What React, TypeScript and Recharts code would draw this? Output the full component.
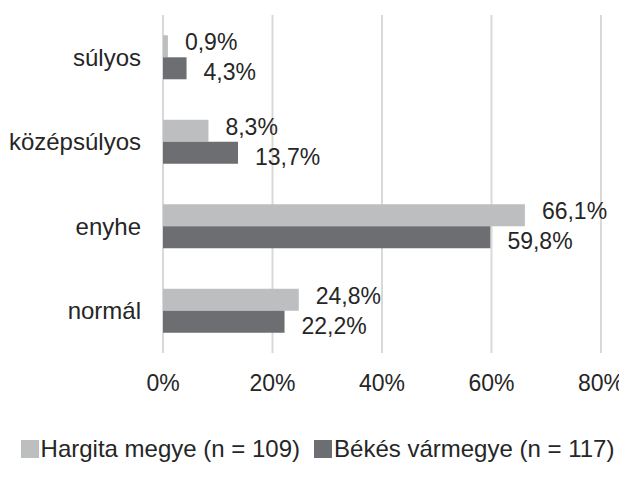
import React from "react";
import {
  BarChart,
  Bar,
  XAxis,
  YAxis,
  CartesianGrid,
  Legend,
  LabelList,
} from "recharts";

const categories = ["súlyos", "középsúlyos", "enyhe", "normál"];
const hargita = [0.9, 8.3, 66.1, 24.8];
const bekes = [4.3, 13.7, 59.8, 22.2];
const xTicks = [0, 20, 40, 60, 80];
const seriesNames = ["Hargita megye (n = 109)", "Békés vármegye (n = 117)"];
const colors = ["#BDBEC0", "#6D6E71"];

const font = "'Liberation Sans', Arial, sans-serif";
const textColor = "#262626";

const data = categories.map((c, i) => ({
  kat: c,
  hargita: hargita[i],
  bekes: bekes[i],
}));

const fmt = (v: number) => v.toFixed(1).replace(".", ",") + "%";

const makeLabel = (dy: number) => (props: any) => {
  const { x, y, width, height, value } = props;
  return (
    <text
      x={x + width + 17}
      y={y + height / 2 + dy}
      fill={textColor}
      fontSize={23}
      fontFamily={font}
      dominantBaseline="central"
    >
      {fmt(value)}
    </text>
  );
};

const renderLegend = () => (
  <div
    style={{
      display: "flex",
      justifyContent: "center",
      fontFamily: font,
      fontSize: 24,
      color: textColor,
      whiteSpace: "nowrap",
    }}
  >
    {seriesNames.map((n, i) => (
      <div
        key={n}
        style={{ display: "flex", alignItems: "center", marginRight: i === 0 ? 14 : 0 }}
      >
        <span
          style={{
            width: 18,
            height: 18,
            background: colors[i],
            display: "inline-block",
            marginRight: 2,
          }}
        />
        <span>{n}</span>
      </div>
    ))}
  </div>
);

export default function App() {
  return (
    <BarChart
      width={619}
      height={473}
      data={data}
      layout="vertical"
      margin={{ top: 7, right: 26, bottom: 88, left: 0 }}
      barCategoryGap="24%"
      barGap={0}
    >
      <CartesianGrid horizontal={false} stroke="#D9D9D9" strokeWidth={2} />
      <XAxis
        type="number"
        domain={[0, 80]}
        ticks={xTicks}
        tickFormatter={(v) => `${v}%`}
        axisLine={false}
        tickLine={false}
        tickSize={0}
        tickMargin={22}
        height={40}
        tick={{ fill: textColor, fontSize: 23, fontFamily: font }}
      />
      <YAxis
        type="category"
        dataKey="kat"
        width={155}
        axisLine={false}
        tickLine={false}
        tickSize={0}
        tickMargin={22}
        tick={{ fill: textColor, fontSize: 24, fontFamily: font }}
      />
      <Legend
        verticalAlign="middle"
        content={renderLegend}
        wrapperStyle={{ top: 427, left: 0, width: 619 }}
      />
      <Bar dataKey="hargita" name={seriesNames[0]} fill={colors[0]} isAnimationActive={false}>
        <LabelList dataKey="hargita" content={makeLabel(-4)} />
      </Bar>
      <Bar dataKey="bekes" name={seriesNames[1]} fill={colors[1]} isAnimationActive={false}>
        <LabelList dataKey="bekes" content={makeLabel(4)} />
      </Bar>
    </BarChart>
  );
}
